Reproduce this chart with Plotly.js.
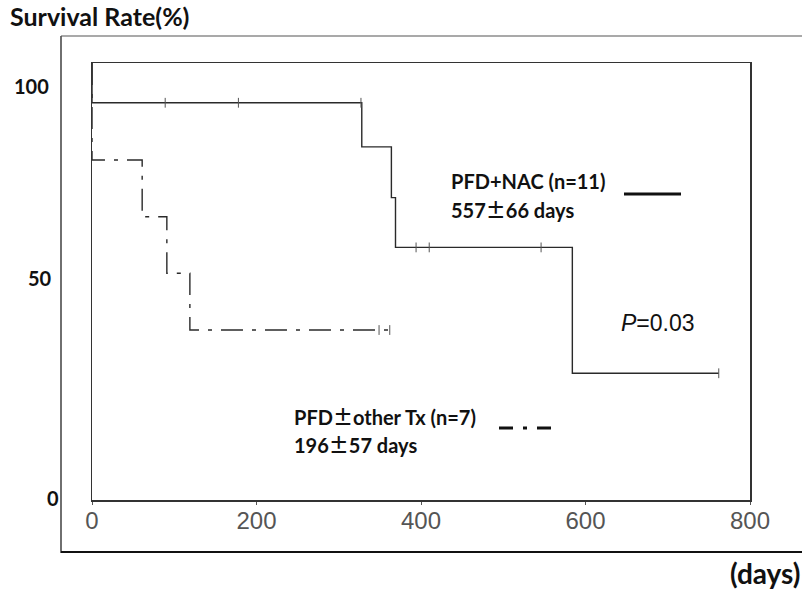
<!DOCTYPE html>
<html>
<head>
<meta charset="utf-8">
<script src="https://cdn.plot.ly/plotly-3.0.1.min.js"></script>
<style>
  html, body { margin: 0; padding: 0; background: #fff; }
  #chart { width: 802px; height: 589px; }
</style>
</head>
<body>
<div id="chart"></div>
<script>
// Kaplan-Meier step points (day, survival %)
const nacDays = [0, 0, 328, 364, 369, 584, 762];
const nacSurv = [100, 90.9, 80.8, 69.2, 57.8, 29.0, 29.0];
const nacCensorDays = [89, 178, 327, 394, 410, 546, 762];

const othDays = [0, 0, 61, 91, 119, 367];
const othSurv = [100, 77.8, 64.8, 51.9, 38.9, 38.9];
const othCensorDays = [349, 362];

const xTicks = [0, 200, 400, 600, 800];
const yLabels = ['100', '50', '0'];

// wide plus-minus sign taken from the CJK face
const PM = '<span style="font-family:\'Noto Sans CJK JP\'">\u00b1</span>';
const nacLabel = ['PFD+NAC (n=11)', '557' + PM + '66 days'];
const othLabel = ['PFD' + PM + 'other Tx (n=7)', '196' + PM + '57 days'];
const pLabel = '<i>P</i>=0.03';

// survival level of a step curve at time t
function levelAt(days, surv, t) {
  let v = surv[0];
  for (let i = 0; i < days.length; i++) {
    if (days[i] <= t) v = surv[i];
  }
  return v;
}

const lineCol = '#2a2a2a';
const boldFont = 'Lato, "Noto Sans CJK JP", sans-serif';
const censorMarker = {symbol: 'line-ns-open', size: 7, color: '#555', line: {color: '#555', width: 1}};

const traces = [
  {
    x: nacDays, y: nacSurv, mode: 'lines', line: {shape: 'hv', color: lineCol, width: 1.4},
    hoverinfo: 'skip', showlegend: false
  },
  {
    x: nacCensorDays, y: nacCensorDays.map(t => levelAt(nacDays, nacSurv, t)),
    mode: 'markers', marker: censorMarker, hoverinfo: 'skip', showlegend: false
  },
  {
    x: othDays, y: othSurv, mode: 'lines',
    line: {shape: 'hv', color: lineCol, width: 1.4, dash: '22px,9px,4px,9px'},
    hoverinfo: 'skip', showlegend: false
  },
  {
    x: othCensorDays, y: othCensorDays.map(t => levelAt(othDays, othSurv, t)),
    mode: 'markers', marker: censorMarker, hoverinfo: 'skip', showlegend: false
  }
];

// pixel -> paper helpers for the fixed 802x589 canvas
const L = 92, R = 750, T = 63, B = 500;
const px = v => (v - L) / (R - L);
const py = v => (B - v) / (B - T);

const annotations = [
  {text: nacLabel[0], x: px(449), y: py(181), xanchor: 'left', yanchor: 'middle'},
  {text: nacLabel[1], x: px(449), y: py(209), xanchor: 'left', yanchor: 'middle'},
  {text: othLabel[0], x: px(292), y: py(416), xanchor: 'left', yanchor: 'middle'},
  {text: othLabel[1], x: px(292), y: py(444), xanchor: 'left', yanchor: 'middle'},
  {text: yLabels[0], x: px(51), y: py(86), xanchor: 'right', yanchor: 'middle'},
  {text: yLabels[1], x: px(54), y: py(278), xanchor: 'right', yanchor: 'middle'},
  {text: yLabels[2], x: px(61), y: py(498), xanchor: 'right', yanchor: 'middle'},
  {text: '(days)', x: px(802), y: py(573), xanchor: 'right', yanchor: 'middle',
   font: {family: boldFont, size: 28, color: '#111', weight: 700}},
  {text: pLabel, x: px(619), y: py(323), xanchor: 'left', yanchor: 'middle',
   font: {family: '"Liberation Sans", Arial, sans-serif', size: 23, color: '#111'}}
].map(a => Object.assign({xref: 'paper', yref: 'paper', showarrow: false,
  font: {family: boldFont, size: 20, color: '#111', weight: 700}}, a));

const shapes = [
  // outer frame
  {type: 'line', xref: 'paper', yref: 'paper', x0: px(61), x1: px(61), y0: py(36), y1: py(553),
   line: {color: '#333', width: 1.4}},
  {type: 'line', xref: 'paper', yref: 'paper', x0: px(61), x1: px(805), y0: py(36), y1: py(36),
   line: {color: '#555', width: 1.2}},
  {type: 'line', xref: 'paper', yref: 'paper', x0: px(61), x1: px(805), y0: py(552), y1: py(552),
   line: {color: '#111', width: 2}},
  // legend samples
  {type: 'line', xref: 'paper', yref: 'paper', x0: px(624), x1: px(681), y0: py(194), y1: py(194),
   line: {color: '#111', width: 3}},
  {type: 'line', xref: 'paper', yref: 'paper', x0: px(499), x1: px(552), y0: py(428), y1: py(428),
   line: {color: '#111', width: 3, dash: '14px,10px,4px,10px'}}
];

const layout = {
  width: 802, height: 589,
  margin: {l: L, r: 802 - R, t: T, b: 589 - B},
  paper_bgcolor: '#fff', plot_bgcolor: '#fff',
  title: {
    text: 'Survival Rate(%)', x: 10 / 802, xref: 'container', xanchor: 'left',
    y: 1 - 17 / 589, yref: 'container', yanchor: 'middle',
    font: {family: boldFont, size: 25, color: '#111', weight: 700}
  },
  xaxis: {
    range: [0, 800], tickvals: xTicks, ticktext: xTicks.map(String),
    showline: true, mirror: true, linecolor: '#333', linewidth: 1.5,
    showgrid: false, zeroline: false, ticks: 'outside', ticklen: 3, tickcolor: '#555',
    tickfont: {family: '"Liberation Sans", Arial, sans-serif', size: 24, color: '#555'},
    ticklabelstandoff: -4, fixedrange: true
  },
  yaxis: {
    range: [0, 100], showline: true, mirror: true, linecolor: '#333', linewidth: 1.5,
    showgrid: false, zeroline: false, showticklabels: false, ticks: '', fixedrange: true
  },
  annotations: annotations,
  shapes: shapes,
  showlegend: false
};

Plotly.newPlot('chart', traces, layout, {displayModeBar: false, staticPlot: true});
</script>
</body>
</html>
